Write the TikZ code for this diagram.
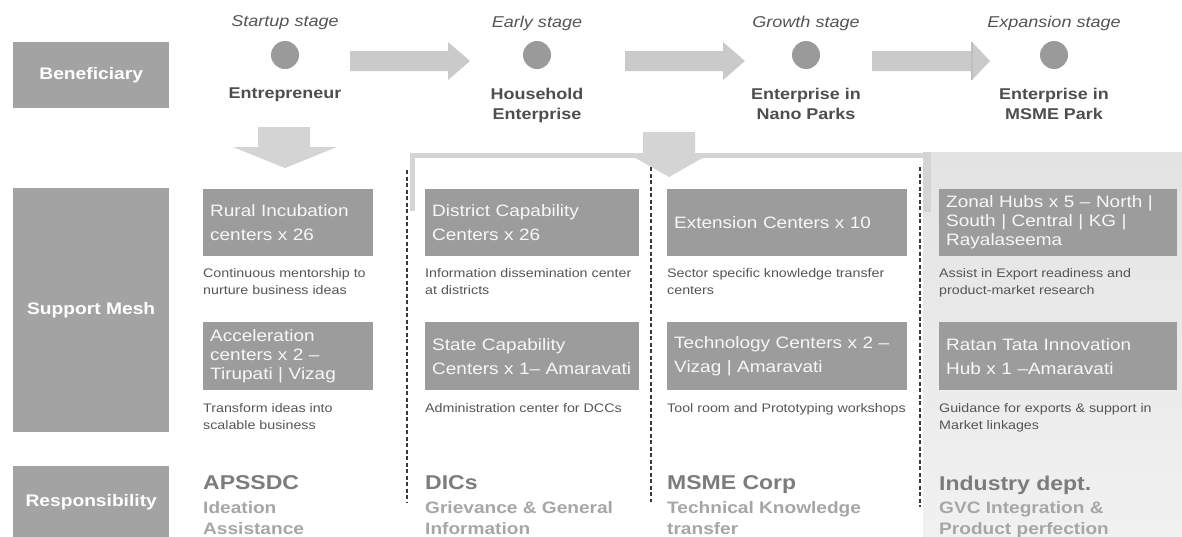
\documentclass[tikz,border=0pt]{standalone}
\usepackage{fontspec}
\setmainfont{Liberation Sans}[FakeStretch=1.15]
\definecolor{boxgray}{HTML}{9C9C9C}
\definecolor{labgray}{HTML}{A3A3A3}
\definecolor{arrgray}{HTML}{CACACA}
\definecolor{bargray}{HTML}{D4D4D4}
\definecolor{txtdark}{HTML}{555555}
\definecolor{namegray}{HTML}{4E4E4E}
\definecolor{headgray}{HTML}{7C7C7C}
\definecolor{subgray}{HTML}{A6A6A6}
\definecolor{panelA}{HTML}{E3E3E3}
\definecolor{panelB}{HTML}{F1F1F1}
\definecolor{dashgray}{HTML}{3A3A3A}
\definecolor{circgray}{HTML}{9A9A9A}
\tikzset{
  lab/.style={fill=labgray, text=white, font=\bfseries\fontsize{16.7}{20}\selectfont, inner sep=0pt, anchor=north west},
  sbox/.style={fill=boxgray, text=white!97!black, inner xsep=7pt, inner ysep=0pt, align=left, anchor=north west},
  twol/.style={font=\fontsize{16.5}{24}\selectfont},
  threel/.style={font=\fontsize{16.5}{19}\selectfont},
  desc/.style={text=txtdark, font=\fontsize{12.4}{17}\selectfont, inner sep=0pt, anchor=north west, align=left},
  stagelab/.style={text=txtdark, font=\itshape\fontsize{15.7}{18}\selectfont, inner sep=0pt},
  benname/.style={text=namegray, font=\bfseries\fontsize{15.6}{20}\selectfont, inner sep=0pt, anchor=north, align=center},
  stagedot/.style={circle, fill=circgray, minimum size=28pt, inner sep=0pt},
  resphead/.style={text=headgray, font=\bfseries\fontsize{20}{24}\selectfont, inner sep=0pt, anchor=north west},
  respsub/.style={text=subgray, font=\bfseries\fontsize{16.6}{21}\selectfont, inner sep=0pt, anchor=north west, align=left},
  blockarrow/.style={fill=arrgray},
  downarrow/.style={fill=bargray},
  sepline/.style={draw=dashgray, line width=1.8pt, dash pattern=on 4pt off 2.5pt}
}
\begin{document}
\begin{tikzpicture}[x=1pt,y=-1pt]
\useasboundingbox (0,0) rectangle (1182,536);
\fill[white] (0,0) rectangle (1182,536);
% expansion panel
\fill[top color=panelA, bottom color=panelB] (923,152) rectangle (1182,536);
% bracket
\fill[bargray] (410,153) rectangle (925,158);
\fill[bargray] (410,153) rectangle (415,211);
\fill[bargray] (923,152) rectangle (931,212);
% left labels
\node[lab, minimum width=156pt, minimum height=66pt] (ben) at (13,42) {Beneficiary};
\node[lab, minimum width=156pt, minimum height=244pt] (sup) at (13,188) {Support Mesh};
\node[lab, minimum width=156pt, minimum height=71pt] (resp) at (13,466) {Responsibility};
% stages
\node[stagelab] (s1) at (285,23) {Startup stage};
\node[stagelab] (s2) at (537,23) {Early stage};
\node[stagelab] (s3) at (806,23) {Growth stage};
\node[stagelab] (s4) at (1054,23) {Expansion stage};
\node[stagedot] (c1) at (285,55) {};
\node[stagedot] (c2) at (537,55) {};
\node[stagedot] (c3) at (806,55) {};
\node[stagedot] (c4) at (1054,55) {};
\node[benname] (b1) at (285,88) {Entrepreneur};
\node[benname] (b2) at (537,88) {Household\\Enterprise};
\node[benname] (b3) at (806,88) {Enterprise in\\Nano Parks};
\node[benname] (b4) at (1054,88) {Enterprise in\\MSME Park};
% horizontal block arrows
\fill[blockarrow] (350,51) -- (448,51) -- (448,42) -- (470,61) -- (448,80) -- (448,71) -- (350,71) -- cycle;
\fill[blockarrow] (625,51) -- (723,51) -- (723,42) -- (745,61) -- (723,80) -- (723,71) -- (625,71) -- cycle;
\fill[blockarrow] (872,51) -- (972,51) -- (972,42) -- (990,61) -- (972,80) -- (972,71) -- (872,71) -- cycle;
\draw[white!75!black, line width=1.2pt] (972,42) -- (972,80);
% down arrows
\fill[downarrow] (258,127) -- (310,127) -- (310,147) -- (337,147) -- (285,168) -- (233,147) -- (258,147) -- cycle;
\fill[downarrow] (643,132) -- (695,132) -- (695,156) -- (706,156) -- (669,177) -- (632,156) -- (643,156) -- cycle;
% dashed separators
\coordinate (d1t) at (407,170); \coordinate (d1b) at (407,502);
\coordinate (d2t) at (651,167); \coordinate (d2b) at (651,502);
\coordinate (d3t) at (920,167); \coordinate (d3b) at (920,507);
\draw[sepline] (d1t) -- (d1b);
\draw[sepline] (d2t) -- (d2b);
\draw[sepline] (d3t) -- (d3b);
% support boxes row 1
\node[sbox, twol, minimum width=170pt, minimum height=67pt, text width=156pt] (r1c1) at (203,189) {Rural Incubation\\centers x 26};
\node[sbox, twol, minimum width=214pt, minimum height=67pt, text width=200pt] (r1c2) at (425,189) {District Capability\\Centers x 26};
\node[sbox, twol, minimum width=240pt, minimum height=67pt, text width=226pt] (r1c3) at (667,189) {Extension Centers x 10};
\node[sbox, threel, minimum width=238pt, minimum height=67pt, text width=224pt] (r1c4) at (939,189) {Zonal Hubs x 5 -- North |\\South | Central | KG |\\Rayalaseema};
% support boxes row 2
\node[sbox, threel, minimum width=170pt, minimum height=68pt, text width=156pt] (r2c1) at (203,322) {Acceleration\\centers x 2 --\\Tirupati | Vizag};
\node[sbox, twol, minimum width=214pt, minimum height=68pt, text width=200pt] (r2c2) at (425,322) {State Capability\\Centers x 1-- Amaravati};
\node[sbox, twol, minimum width=240pt, minimum height=68pt, text width=226pt] (r2c3) at (667,322) {Technology Centers x 2 --\\Vizag | Amaravati};
\node[sbox, twol, minimum width=238pt, minimum height=68pt, text width=224pt] (r2c4) at (939,322) {Ratan Tata Innovation\\Hub x 1 --Amaravati};
% descriptions
\node[desc] (e1c1) at (203,268.5) {Continuous mentorship to\\nurture business ideas};
\node[desc] (e1c2) at (425,268.5) {Information dissemination center\\at districts};
\node[desc] (e1c3) at (667,268.5) {Sector specific knowledge transfer\\centers};
\node[desc] (e1c4) at (939,268.5) {Assist in Export readiness and\\product-market research};
\node[desc] (e2c1) at (203,403.5) {Transform ideas into\\scalable business};
\node[desc] (e2c2) at (425,403.5) {Administration center for DCCs};
\node[desc] (e2c3) at (667,403.5) {Tool room and Prototyping workshops};
\node[desc] (e2c4) at (939,403.5) {Guidance for exports \& support in\\Market linkages};
% responsibility
\node[resphead] (h1) at (203,475.5) {APSSDC};
\node[resphead] (h2) at (425,475.5) {DICs};
\node[resphead] (h3) at (667,475.5) {MSME Corp};
\node[resphead] (h4) at (939,475.5) {Industry dept.};
\node[respsub] (t1) at (203,501) {Ideation\\Assistance};
\node[respsub] (t2) at (425,501) {Grievance \& General\\Information};
\node[respsub] (t3) at (667,501) {Technical Knowledge\\transfer};
\node[respsub] (t4) at (939,501) {GVC Integration \&\\Product perfection};
\end{tikzpicture}
\end{document}
